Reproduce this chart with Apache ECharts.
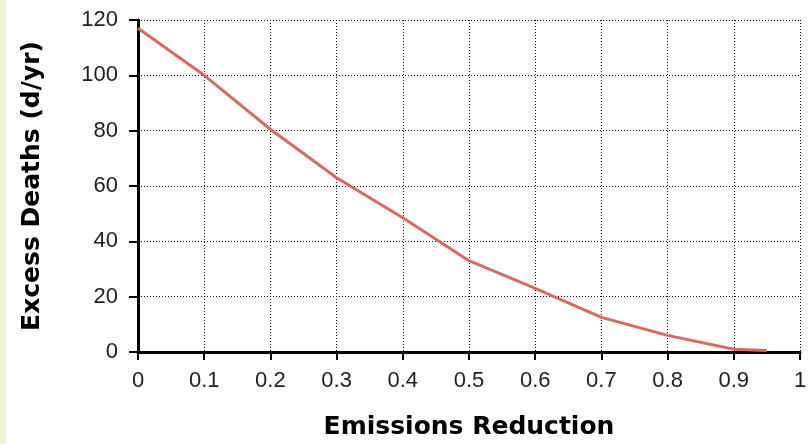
<!DOCTYPE html>
<html><head><meta charset="utf-8">
<script src="https://cdn.jsdelivr.net/npm/echarts@6/dist/echarts.min.js"></script>
<style>
html,body{margin:0;padding:0;background:#fff;}
#strip{position:absolute;left:0;top:0;width:6px;height:444px;background:#f4f2d9;}
#c{position:absolute;left:0;top:0;width:809px;height:444px;}
</style></head>
<body><div id="strip"></div><div id="c"></div>
<script>
const reductions = [0, 0.1, 0.2, 0.3, 0.4, 0.5, 0.6, 0.7, 0.8, 0.9, 0.95];
const excessDeaths = [117, 100, 80.5, 63, 48.5, 33, 23, 12.5, 6, 1, 0.5];
const xTitle = 'Emissions Reduction';
const yTitle = 'Excess Deaths (d/yr)';

const chart = echarts.init(document.getElementById('c'));
const tickFont = 'Liberation Sans, Arial, sans-serif';
const titleFont = 'DejaVu Sans, Verdana, sans-serif';
chart.setOption({
  animation: false,
  grid: {left: 138, right: 9, top: 20, bottom: 92, containLabel: false, outerBoundsMode: 'none'},
  xAxis: {
    type: 'value', min: 0, max: 1, interval: 0.1,
    name: xTitle, nameLocation: 'middle', nameGap: 63,
    nameTextStyle: {fontFamily: titleFont, fontWeight: 'bold', fontSize: 25, color: '#000'},
    axisLine: {show: true, onZero: false, lineStyle: {color: '#000', width: 3}},
    axisTick: {show: true, length: 8, lineStyle: {color: '#000', width: 2}},
    axisLabel: {fontFamily: tickFont, fontSize: 22, color: '#222', margin: 18,
      formatter: v => String(Math.round(v * 10) / 10)},
    splitLine: {show: true, lineStyle: {color: '#111', type: [1, 2], width: 1}}
  },
  yAxis: {
    type: 'value', min: 0, max: 120, interval: 20,
    name: yTitle, nameLocation: 'middle', nameGap: 93, nameRotate: 90,
    nameTextStyle: {fontFamily: titleFont, fontWeight: 'bold', fontSize: 25, color: '#000'},
    axisLine: {show: true, lineStyle: {color: '#000', width: 3}},
    axisTick: {show: true, length: 9, lineStyle: {color: '#000', width: 2}},
    axisLabel: {fontFamily: tickFont, fontSize: 22, color: '#222', margin: 20},
    splitLine: {show: true, lineStyle: {color: '#111', type: [1, 2], width: 1}}
  },
  series: [{
    type: 'line',
    data: reductions.map((x, i) => [x, excessDeaths[i]]),
    showSymbol: false,
    lineStyle: {color: '#d96b5a', width: 3},
    z: 5
  }]
});
</script></body></html>
